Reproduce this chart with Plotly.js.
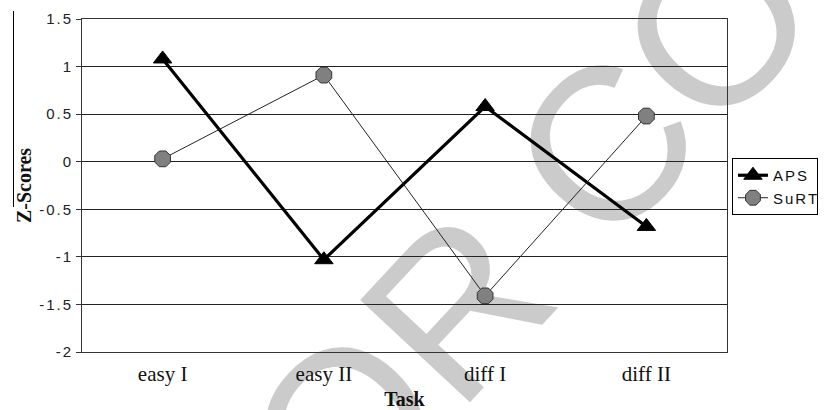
<!DOCTYPE html>
<html>
<head>
<meta charset="utf-8">
<script src="https://cdn.plot.ly/plotly-3.0.1.min.js"></script>
<style>
  html, body { margin: 0; padding: 0; background: #ffffff; }
  #wrap { position: relative; width: 830px; height: 410px; overflow: hidden; background: #ffffff; }
  #wm { position: absolute; left: 0; top: 0; width: 830px; height: 410px; z-index: 0; }
  #chart { position: absolute; left: 0; top: 0; width: 830px; height: 410px; z-index: 1; }
  #art { position: absolute; left: 13px; top: 11px; width: 1px; height: 196px; background: #000000; z-index: 5; }
  #chart .ytick text, #chart .legendtext { letter-spacing: 2px; }
</style>
</head>
<body>
<div id="wrap">
  <svg id="wm" width="830" height="410" xmlns="http://www.w3.org/2000/svg">
    <g transform="translate(528,224) rotate(-47)">
      <text x="0" y="79" text-anchor="middle" font-family="Liberation Sans, Arial, sans-serif" font-size="218" fill="#cbcbcb">OR CO</text>
    </g>
  </svg>
  <div id="chart"></div>
  <div id="art"></div>
</div>
<script>
const tasks = ["easy I", "easy II", "diff I", "diff II"];
const apsScores = [1.08, -1.03, 0.58, -0.68];
const surtScores = [0.03, 0.91, -1.41, 0.48];
const seriesNames = ["APS", "SuRT"];
const yTickVals = [-2, -1.5, -1, -0.5, 0, 0.5, 1, 1.5];
const yTickText = ["-2", "-1.5", "-1", "-0.5", "0", "0.5", "1", "1.5"];

const traces = [
  {
    x: tasks, y: apsScores, name: seriesNames[0], type: "scatter", mode: "lines+markers",
    line: { color: "#000000", width: 3.2 },
    marker: { symbol: "triangle-up", size: 16, color: "#000000", line: { color: "#000000", width: 1 } }
  },
  {
    x: tasks, y: surtScores, name: seriesNames[1], type: "scatter", mode: "lines+markers",
    line: { color: "#222222", width: 1 },
    marker: { symbol: "octagon", size: 17, color: "#808080", line: { color: "#333333", width: 1 } }
  }
];

const layout = {
  width: 830, height: 410,
  margin: { l: 82, r: 95, t: 19, b: 58, pad: 0 },
  paper_bgcolor: "rgba(0,0,0,0)",
  plot_bgcolor: "rgba(0,0,0,0)",
  showlegend: true,
  legend: {
    x: 1.0077, xanchor: "left", y: 0.5826, yanchor: "top",
    bgcolor: "#ffffff", bordercolor: "#000000", borderwidth: 1,
    font: { family: "Liberation Sans, Arial, sans-serif", size: 15, color: "#111111" },
    tracegroupgap: 0
  },
  xaxis: {
    type: "category",
    range: [-0.5, 3.5],
    showgrid: false, zeroline: false,
    showline: true, linecolor: "#333333", linewidth: 1, mirror: true,
    ticks: "", ticklabelstandoff: 3,
    tickfont: { family: "Liberation Serif, Times New Roman, serif", size: 21, color: "#111111" },
    title: { text: "<b>Task</b>", font: { family: "Liberation Serif, Times New Roman, serif", size: 20, color: "#111111" }, standoff: 6 },
    automargin: false
  },
  yaxis: {
    range: [-2, 1.5],
    tickvals: yTickVals, ticktext: yTickText,
    showgrid: true, gridcolor: "#222222", gridwidth: 1,
    zeroline: false,
    showline: true, linecolor: "#333333", linewidth: 1, mirror: true,
    ticks: "outside", ticklen: 5, tickcolor: "#333333", tickwidth: 1,
    tickfont: { family: "Liberation Sans, Arial, sans-serif", size: 15, color: "#222222" },
    title: { text: "<b>Z-Scores</b>", font: { family: "Liberation Serif, Times New Roman, serif", size: 20, color: "#111111" }, standoff: 10 },
    automargin: false
  }
};

Plotly.newPlot("chart", traces, layout, { displayModeBar: false, staticPlot: true });
</script>
</body>
</html>
